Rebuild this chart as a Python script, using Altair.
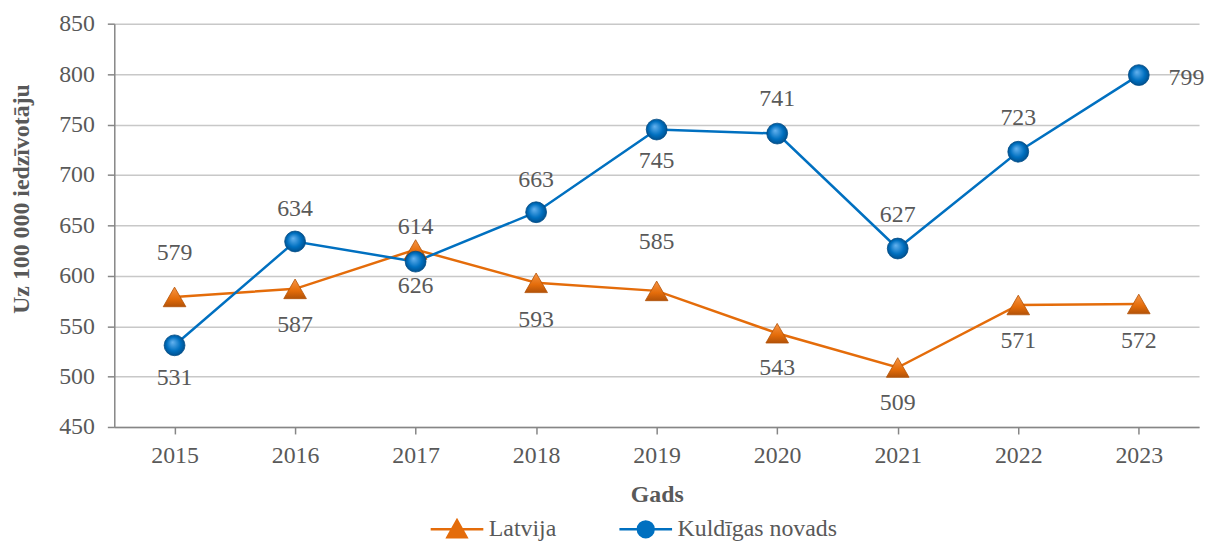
import altair as alt
import pandas as pd

years = ["2015", "2016", "2017", "2018", "2019", "2020", "2021", "2022", "2023"]
latvija = [579, 587, 626, 593, 585, 543, 509, 571, 572]
kuldiga = [531, 634, 614, 663, 745, 741, 627, 723, 799]
series_names = ["Latvija", "Kuldīgas novads"]

# label placement: vertical offset in pixels; "side" marks labels set to the right
lat_label_dy = [-44, 36, 37, 37, -49, 35, 36, 36, 37]
kul_label_dy = [33, -33, -35, -32, 32, -35, -34, -34, 3]
lat_label_side = [0] * 9
kul_label_side = [0, 0, 0, 0, 0, 0, 0, 0, 1]

rows = []
for i, y in enumerate(years):
    rows.append({"year": y, "series": series_names[0], "value": latvija[i],
                 "ldy": lat_label_dy[i], "side": lat_label_side[i]})
    rows.append({"year": y, "series": series_names[1], "value": kuldiga[i],
                 "ldy": kul_label_dy[i], "side": kul_label_side[i]})
df = pd.DataFrame(rows)

ORANGE = "#E46C0A"
BLUE = "#0070C0"
TXT = "#595959"
FONT = "Liberation Serif"
W, H = 1092, 406
PX_PER_UNIT = H / 400.0

color_scale = alt.Scale(domain=series_names, range=[ORANGE, BLUE])
legend_shapes = alt.Scale(domain=series_names, range=[
    "M-1,0 H1 M-0.36,0.3 L0,-0.34 L0.36,0.3 Z",
    "M-1,0 H-0.3 M0.3,0 H1 M-0.3,0 A0.3,0.3 0 1,0 0.3,0 A0.3,0.3 0 1,0 -0.3,0 Z",
])

x_enc = alt.X("year:O", sort=years,
              scale=alt.Scale(paddingInner=0, paddingOuter=0),
              axis=alt.Axis(title="Gads", labelAngle=0, bandPosition=0,
                            labelFontSize=24, labelColor=TXT, labelFont=FONT,
                            labelPadding=10,
                            titleFont=FONT, titleFontSize=24, titleFontWeight="bold",
                            titleColor=TXT, titlePadding=15,
                            domainColor="#868686", domainWidth=1.5,
                            tickColor="#868686", tickSize=7, tickWidth=1.5,
                            grid=False))
y_scale = alt.Scale(domain=[450, 850], nice=False, zero=False)
y_enc = alt.Y("value:Q", scale=y_scale,
              axis=alt.Axis(title="Uz 100 000 iedzīvotāju", values=list(range(450, 851, 50)),
                            labelFontSize=24, labelColor=TXT, labelFont=FONT,
                            labelPadding=13,
                            titleFont=FONT, titleFontSize=24, titleFontWeight="bold",
                            titleColor=TXT, titleX=-81, titleY=176,
                            domainColor="#868686", domainWidth=1.5,
                            tickColor="#868686", tickSize=7, tickWidth=1.5,
                            gridColor="#C8C8C8", gridWidth=1.5))

line_lat = alt.Chart(df).transform_filter(alt.datum.series == series_names[0]).mark_line(
    strokeWidth=2.5, color=ORANGE).encode(x=x_enc, y=y_enc)
line_kul = alt.Chart(df).transform_filter(alt.datum.series == series_names[1]).mark_line(
    strokeWidth=2.5, color=BLUE).encode(x=x_enc, y=y_enc)

# legend-only layer: its marks sit outside the plot and are clipped away
legend_layer = alt.Chart(df).mark_point(
    filled=True, size=2809, strokeWidth=2.5, opacity=1, clip=True
).encode(
    x=x_enc,
    y=alt.Y("value:Q", scale=y_scale),
    yOffset=alt.value(-3000),
    color=alt.Color("series:N", scale=color_scale, sort=series_names,
                    legend=alt.Legend(title=None, orient="none", direction="horizontal",
                                      legendX=317, legendY=481,
                                      labelFont=FONT, labelFontSize=24, labelColor=TXT,
                                      labelOffset=4, columnPadding=58, labelLimit=400,
                                      symbolSize=2809, symbolStrokeWidth=2.5)),
    stroke=alt.Stroke("series:N", scale=color_scale, sort=series_names),
    shape=alt.Shape("series:N", scale=legend_shapes, sort=series_names),
)

tri_grad = alt.LinearGradient(gradient="linear", x1=0.5, y1=0, x2=0.5, y2=1,
                              stops=[alt.GradientStop(color="#F79646", offset=0),
                                     alt.GradientStop(color="#E46C0A", offset=0.6),
                                     alt.GradientStop(color="#B25208", offset=1)])
circ_grad = alt.RadialGradient(gradient="radial", x1=0.4, y1=0.35, r1=0,
                               x2=0.5, y2=0.5, r2=0.55,
                               stops=[alt.GradientStop(color="#66B3F0", offset=0),
                                      alt.GradientStop(color="#0070C0", offset=0.6),
                                      alt.GradientStop(color="#004A85", offset=1)])

tri = alt.Chart(df).transform_filter(alt.datum.series == series_names[0]).mark_point(
    shape="triangle-up", size=520, filled=True, fill=tri_grad, stroke="#B25208",
    strokeWidth=0.8, opacity=1).encode(x=x_enc, y=y_enc)
circ = alt.Chart(df).transform_filter(alt.datum.series == series_names[1]).mark_point(
    shape="circle", size=440, filled=True, fill=circ_grad, stroke="#004A85",
    strokeWidth=0.8, opacity=1).encode(x=x_enc, y=y_enc)

label_base = alt.Chart(df).transform_calculate(
    ly=f"datum.value - datum.ldy / {PX_PER_UNIT}"
)
labels_c = label_base.transform_filter(alt.datum.side == 0).mark_text(
    font=FONT, fontSize=24, color=TXT, baseline="middle").encode(
    x=x_enc, y=alt.Y("ly:Q", scale=y_scale), text="value:Q")
labels_r = label_base.transform_filter(alt.datum.side == 1).mark_text(
    font=FONT, fontSize=24, color=TXT, baseline="middle", dx=48).encode(
    x=x_enc, y=alt.Y("ly:Q", scale=y_scale), text="value:Q")

chart = alt.layer(line_lat, line_kul, legend_layer, tri, circ, labels_c, labels_r).properties(
    width=W, height=H,
    autosize=alt.AutoSizeParams(type="none"),
    padding={"left": 107, "top": 14, "right": 7, "bottom": 114},
).configure_view(stroke=None)

chart.save("out.html", embed_options={"renderer": "svg", "actions": False})
